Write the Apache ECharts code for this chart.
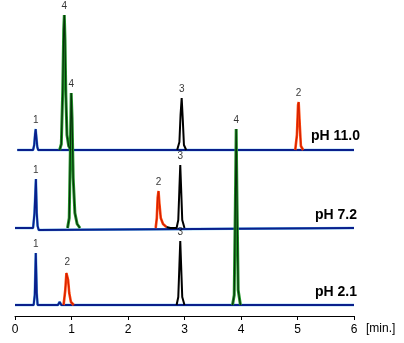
<!DOCTYPE html>
<html><head><meta charset="utf-8">
<script src="https://cdn.jsdelivr.net/npm/echarts@6/dist/echarts.min.js"></script>
<style>html,body{margin:0;padding:0;background:#fff}#c{width:404px;height:343px}</style>
</head><body><div id="c"></div>
<script>
// x tick labels
const xTicks = [0,1,2,3,4,5,6];
// vertical offsets of the three traces (signal units)
const offset110 = 166, offset72 = 88, offset21 = 11;
const traceNames = ['pH 11.0','pH 7.2','pH 2.1'];

// pH 11.0 trace (time [min], signal)
const blue110 = [[0.04,0],[0.32,0],[0.34,5],[0.355,16],[0.366,21],[0.38,12],[0.395,3],[0.41,0],[0.43,-2],[0.45,0],[5.74,0],[5.76,2],[5.78,0],[6.0,0]];
const green110 = [[0.79,0],[0.82,6],[0.845,60],[0.862,120],[0.873,135],[0.885,110],[0.90,55],[0.92,15],[0.95,4],[0.99,0]];
const black110 = [[2.87,0],[2.91,8],[2.93,35],[2.95,52],[2.97,30],[2.99,5],[3.03,0]];
const red110 = [[4.96,0],[4.99,15],[5.01,45],[5.02,48],[5.04,25],[5.06,4],[5.10,0]];
const labels110 = [[0.366,21,'1'],[0.873,135,'4'],[2.95,52,'3'],[5.02,48,'2']];

// pH 7.2 trace
const blue72 = [[0,0],[0.32,0],[0.33,6],[0.345,15],[0.355,14],[0.37,49],[0.385,15],[0.40,2],[0.42,-2],[0.44,0],[6.0,0]];
const green72 = [[0.93,0],[0.96,10],[0.98,80],[0.995,135],[1.01,110],[1.03,50],[1.06,15],[1.10,4],[1.15,0]];
const red72 = [[2.49,0],[2.51,10],[2.525,30],[2.54,37],[2.555,25],[2.58,10],[2.62,4],[2.68,1]];
const black72 = [[2.68,1],[2.75,0],[2.86,0],[2.89,8],[2.91,40],[2.925,63],[2.94,40],[2.96,8],[3.00,0]];
const labels72 = [[0.37,49,'1'],[0.995,135,'4'],[2.54,37,'2'],[2.925,63,'3']];

// pH 2.1 trace
const blue21 = [[0,0],[0.33,0],[0.35,10],[0.368,52],[0.385,12],[0.40,0],[0.42,-2],[0.44,0],[0.76,0],[0.79,3],[0.82,0],[6.0,0]];
const red21 = [[0.86,0],[0.89,15],[0.91,32],[0.925,34],[0.94,25],[0.96,12],[0.99,3],[1.04,0]];
const black21 = [[2.86,0],[2.89,8],[2.91,40],[2.925,64],[2.94,40],[2.96,8],[3.00,0]];
const green21 = [[3.85,0],[3.88,10],[3.90,100],[3.915,176],[3.93,100],[3.95,15],[3.99,0]];
const labels21 = [[0.368,52,'1'],[0.925,34,'2'],[2.925,64,'3'],[3.915,176,'4']];

const shift = (arr, off) => arr.map(p => [p[0], p[1] + off]);
const FONT = 'Liberation Sans, Arial, Helvetica, sans-serif';

function line(data, color, width, z) {
  return {type:'line', data:data, symbol:'none', showSymbol:false, silent:true, animation:false,
    lineStyle:{color:color, width:width}, z:z};
}
function base(data) {
  return [line(data,'#5ab4ea',2.6,2), line(data,'#0a1f8c',1.9,3)];
}
function green(data) {
  return [line(data,'#23962a',3,5), line(data,'#07310a',1.2,6)];
}
function red(data) {
  return [line(data,'#ff4a10',2.6,5), line(data,'#d42000',1.2,6)];
}
function black(data) {
  return [line(data,'#000',2,5)];
}
function labels(arr, off) {
  return {type:'scatter', symbolSize:0, silent:true, animation:false, z:10,
    data: arr.map(p => ({value:[p[0], p[1]+off], name:p[2]})),
    label:{show:true, position:'top', distance:4, formatter:'{b}', color:'#000', fontSize:10, fontFamily:FONT}};
}

const series = [].concat(
  base(shift(blue110, offset110)), base(shift(blue72, offset72)), base(shift(blue21, offset21)),
  black(shift(black110, offset110)), red(shift(red110, offset110)),
  red(shift(red72, offset72)), black(shift(black72, offset72)),
  red(shift(red21, offset21)), black(shift(black21, offset21)),
  green(shift(green110, offset110)), green(shift(green72, offset72)), green(shift(green21, offset21)),
  [labels(labels110, offset110), labels(labels72, offset72), labels(labels21, offset21)]
);

const chart = echarts.init(document.getElementById('c'), null, {renderer:'canvas'});
chart.setOption({
  animation:false,
  backgroundColor:'#fff',
  grid:{left:15, right:50, top:0, bottom:27, containLabel:false},
  xAxis:{type:'value', min:xTicks[0], max:xTicks[xTicks.length-1], interval:1,
    axisLine:{show:true, onZero:false, lineStyle:{color:'#000', width:1}},
    axisTick:{show:true, length:4, lineStyle:{color:'#000'}},
    splitLine:{show:false},
    axisLabel:{color:'#000', fontSize:12, fontFamily:FONT, margin:8}},
  yAxis:{type:'value', min:0, max:316, show:false},
  graphic:[
    {type:'text', left:311, top:129, style:{text:traceNames[0], font:'bold 14px '+FONT, fill:'#000'}},
    {type:'text', left:315, top:208, style:{text:traceNames[1], font:'bold 14px '+FONT, fill:'#000'}},
    {type:'text', left:315, top:285, style:{text:traceNames[2], font:'bold 14px '+FONT, fill:'#000'}},
    {type:'text', left:366, top:323, style:{text:'[min.]', font:'12px '+FONT, fill:'#000'}}
  ],
  series:series
});
</script></body></html>
